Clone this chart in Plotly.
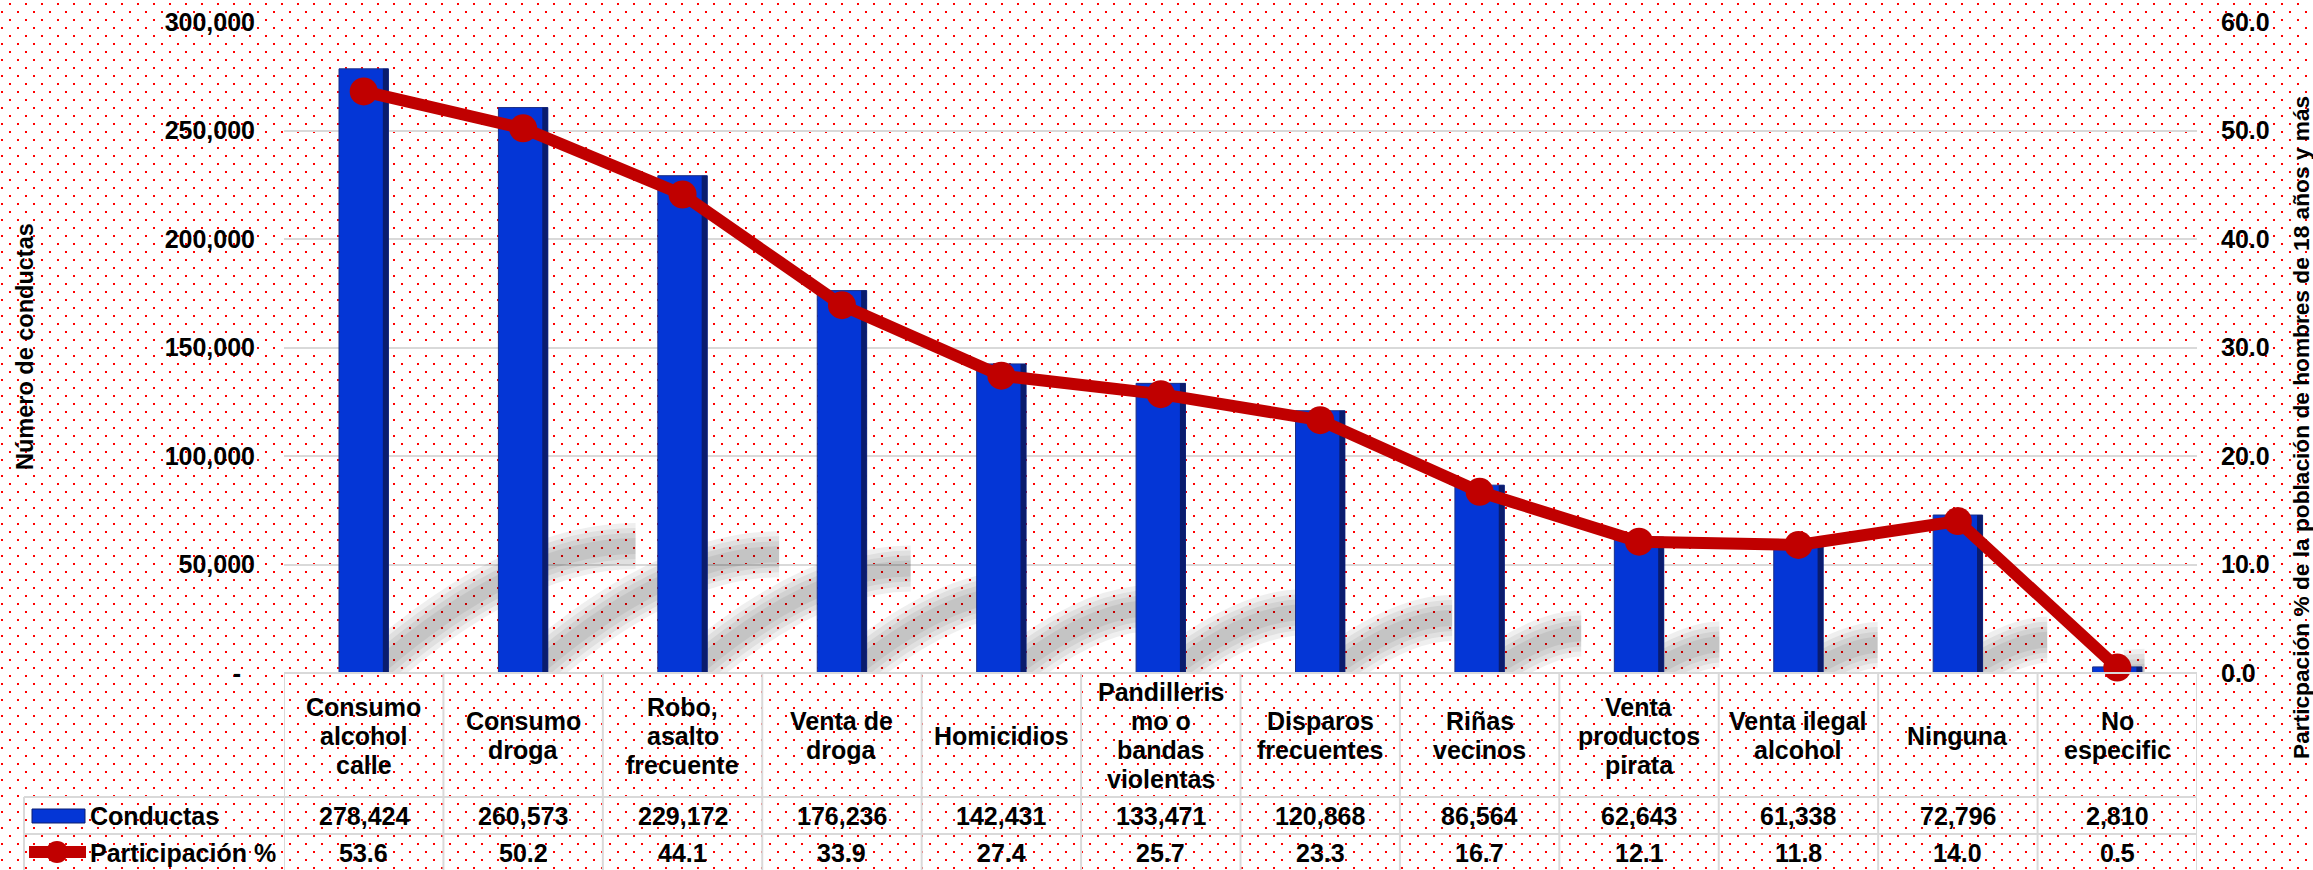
import base64
import plotly.graph_objects as go

# ---------------- data ----------------
categories = ["Consumo alcohol calle", "Consumo droga", "Robo, asalto frecuente",
              "Venta de droga", "Homicidios", "Pandillerismo o bandas violentas",
              "Disparos frecuentes", "Riñas vecinos", "Venta productos pirata",
              "Venta ilegal alcohol", "Ninguna", "No especific"]
category_lines = [["Consumo", "alcohol", "calle"], ["Consumo", "droga"],
                  ["Robo,", "asalto", "frecuente"], ["Venta de", "droga"],
                  ["Homicidios"], ["Pandilleris", "mo o", "bandas", "violentas"],
                  ["Disparos", "frecuentes"], ["Riñas", "vecinos"],
                  ["Venta", "productos", "pirata"], ["Venta ilegal", "alcohol"],
                  ["Ninguna"], ["No", "especific"]]
conductas = [278424, 260573, 229172, 176236, 142431, 133471, 120868, 86564, 62643, 61338, 72796, 2810]
participacion = [53.6, 50.2, 44.1, 33.9, 27.4, 25.7, 23.3, 16.7, 12.1, 11.8, 14.0, 0.5]
left_ticks = [0, 50000, 100000, 150000, 200000, 250000, 300000]
left_ticktext = ["-\u00a0\u00a0", "50,000", "100,000", "150,000", "200,000", "250,000", "300,000"]
right_ticks = [0, 10, 20, 30, 40, 50, 60]
right_ticktext = ["0.0", "10.0", "20.0", "30.0", "40.0", "50.0", "60.0"]
series_names = ["Conductas", "Participación %"]
left_title = "Número de conductas"
right_title = "Particpación % de la población de hombres de 18 años y más"

# ---------------- layout geometry ----------------
W, H = 2313, 870
L, R, T, B = 284, 2197, 22, 673
PW, PH = R - L, B - T

def px(x):
    return (x - L) / PW

def py(y):
    return (B - y) / PH

FONT = "Liberation Sans, Arial, sans-serif"
BLUE = "#0436D6"
RED = "#C00000"
GRID = "#D9D9D9"
xs = list(range(len(categories)))
BAR_W = 0.31

fig = go.Figure()
fig.add_trace(go.Bar(x=xs, y=conductas, name=series_names[0],
                     marker=dict(color=BLUE, line=dict(color="#1B2F86", width=1)),
                     width=BAR_W, showlegend=False, hovertext=categories))
fig.add_trace(go.Bar(x=xs, y=conductas, marker=dict(color="#0A1C6E", line=dict(width=0)),
                     width=0.035, offset=BAR_W / 2 - 0.035, showlegend=False, hoverinfo="skip"))
fig.add_trace(go.Scatter(x=xs, y=participacion, name=series_names[1], yaxis="y2",
                         mode="lines+markers", line=dict(color=RED, width=12),
                         marker=dict(color=RED, size=28), cliponaxis=False, showlegend=False,
                         hovertext=categories))

# background dotted pattern
svg = (f'<svg xmlns="http://www.w3.org/2000/svg" width="{W}" height="{H}" viewBox="0 0 {W} {H}">'
       '<defs><pattern id="p" width="16" height="16" patternUnits="userSpaceOnUse">'
       '<rect x="9" y="3" width="2" height="2" fill="#FF0000"/>'
       '<rect x="1" y="11" width="2" height="2" fill="#FF0000"/></pattern></defs>'
       f'<rect width="{W}" height="{H}" fill="#FFFFFF"/><rect width="{W}" height="{H}" fill="url(#p)"/></svg>')
src = "data:image/svg+xml;base64," + base64.b64encode(svg.encode()).decode()

shapes = []
# soft perspective shadows behind the bars (derived from bar values)
vmax = max(conductas)
for i, v in enumerate(conductas):
    s = v / vmax
    e = i + BAR_W / 2
    path = f"M {i + 0.05},0 Q {e + 0.80 * s},{0.21 * v} {e + 1.55 * s},{0.21 * v}"
    for wdt in (46, 36, 26, 16):
        shapes.append(dict(type="path", xref="x", yref="y", path=path, layer="between",
                           line=dict(color="#000000", width=wdt), opacity=0.06))

# table lines
line = dict(color=GRID, width=2)
shapes.append(dict(type="line", xref="paper", yref="paper", x0=0, x1=1, y0=0, y1=0, line=line))
for yy in (797, 834):
    shapes.append(dict(type="line", xref="paper", yref="paper", x0=px(24), x1=1,
                       y0=py(yy), y1=py(yy), line=line))
for k in range(len(categories) + 1):
    shapes.append(dict(type="line", xref="x", yref="paper", x0=k - 0.5, x1=k - 0.5,
                       y0=py(H + 2), y1=0, line=line))
shapes.append(dict(type="line", xref="paper", yref="paper", x0=px(24), x1=px(24),
                   y0=py(H + 2), y1=py(797), line=line))
# legend keys
shapes.append(dict(type="rect", xref="paper", yref="paper", x0=px(32), x1=px(85),
                   y0=py(823), y1=py(809), fillcolor=BLUE, line=dict(color="#0A1C6E", width=1)))
shapes.append(dict(type="line", xref="paper", yref="paper", x0=px(29), x1=px(86),
                   y0=py(852), y1=py(852), line=dict(color=RED, width=12)))
shapes.append(dict(type="circle", xref="paper", yref="paper", x0=px(46), x1=px(68),
                   y0=py(863), y1=py(841), fillcolor=RED, line=dict(color=RED, width=0)))

annotations = []
tfont = dict(family=FONT, size=25, color="#000000", weight="bold")
for i, lines in enumerate(category_lines):
    n = len(lines)
    for j, t in enumerate(lines):
        annotations.append(dict(x=i, y=py(735.5 + (j - (n - 1) / 2) * 29), xref="x", yref="paper",
                                text=t, showarrow=False, font=tfont, xanchor="center", yanchor="middle"))
    annotations.append(dict(x=i, y=py(816), xref="x", yref="paper", text=f"{conductas[i]:,}",
                            showarrow=False, font=tfont, xanchor="center", yanchor="middle"))
    annotations.append(dict(x=i, y=py(853), xref="x", yref="paper", text=f"{participacion[i]:.1f}",
                            showarrow=False, font=tfont, xanchor="center", yanchor="middle"))
annotations.append(dict(x=px(88), y=py(816), xref="paper", yref="paper", text=series_names[0],
                        showarrow=False, font=tfont, xanchor="left", yanchor="middle"))
annotations.append(dict(x=px(88), y=py(853), xref="paper", yref="paper", text=series_names[1],
                        showarrow=False, font=tfont, xanchor="left", yanchor="middle"))
annotations.append(dict(x=px(25), y=py(347), xref="paper", yref="paper", text=left_title,
                        textangle=-90, showarrow=False,
                        font=dict(family=FONT, size=23.5, color="#000000", weight="bold"),
                        xanchor="center", yanchor="middle"))
annotations.append(dict(x=px(2301), y=py(428), xref="paper", yref="paper", text=right_title,
                        textangle=-90, showarrow=False,
                        font=dict(family=FONT, size=22.7, color="#000000", weight="bold"),
                        xanchor="center", yanchor="middle"))

fig.update_layout(
    width=W, height=H,
    margin=dict(l=L, r=W - R, t=T, b=H - B, pad=0, autoexpand=False),
    paper_bgcolor="#FFFFFF", plot_bgcolor="rgba(0,0,0,0)",
    barmode="overlay",
    showlegend=False,
    images=[dict(source=src, xref="paper", yref="paper", x=px(0), y=py(0),
                 sizex=W / PW, sizey=H / PH, xanchor="left", yanchor="top",
                 sizing="stretch", layer="below")],
    xaxis=dict(type="linear", range=[-0.5, len(categories) - 0.5], showticklabels=False,
               showgrid=False, zeroline=False, showline=False, ticks="", automargin=False),
    yaxis=dict(range=[0, 300000], tickvals=left_ticks, ticktext=left_ticktext,
               tickfont=dict(family=FONT, size=25, color="#000000", weight="bold"),
               showgrid=True, gridcolor=GRID, gridwidth=2, zeroline=False, showline=False,
               ticks="", ticklabelstandoff=28, automargin=False),
    yaxis2=dict(range=[0, 60], tickvals=right_ticks, ticktext=right_ticktext, overlaying="y",
                side="right", tickfont=dict(family=FONT, size=25, color="#000000", weight="bold"),
                showgrid=False, zeroline=False, showline=False, ticks="", ticklabelstandoff=23,
                automargin=False),
    shapes=shapes, annotations=annotations,
)
fig.write_html("out.html", config={"displayModeBar": False},
               post_script="document.body.style.margin='0px';document.body.style.padding='0px';"
                           "document.body.style.overflow='hidden';")
